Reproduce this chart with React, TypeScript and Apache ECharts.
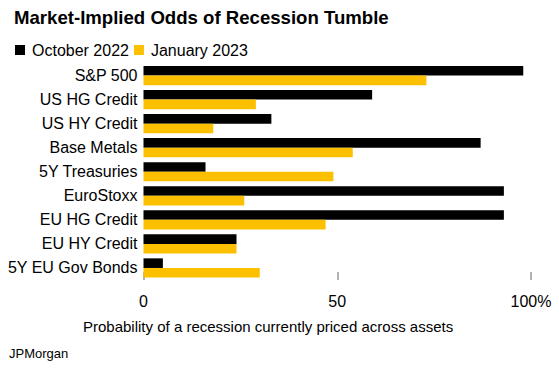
import React, { useEffect, useRef } from "react";
import * as echarts from "echarts";

const categories = [
  "S&P 500",
  "US HG Credit",
  "US HY Credit",
  "Base Metals",
  "5Y Treasuries",
  "EuroStoxx",
  "EU HG Credit",
  "EU HY Credit",
  "5Y EU Gov Bonds",
];
const october2022 = [98, 59, 33, 87, 16, 93, 93, 24, 5];
const january2023 = [73, 29, 18, 54, 49, 26, 47, 24, 30];
const xTicks = [0, 50, 100];

const FONT = "'Liberation Sans', Arial, Helvetica, sans-serif";

export default function App() {
  const ref = useRef<HTMLDivElement>(null);
  useEffect(() => {
    if (!ref.current) return;
    const chart = echarts.init(ref.current, undefined, { renderer: "svg" });
    chart.setOption({
      animation: false,
      backgroundColor: "#ffffff",
      textStyle: { fontFamily: FONT },
      title: {
        text: "Market-Implied Odds of Recession Tumble",
        left: 9,
        top: 3,
        textStyle: { fontFamily: FONT, fontSize: 18.6, fontWeight: "bold", color: "#000" },
      },
      legend: {
        left: 10,
        top: 37,
        itemWidth: 10,
        itemHeight: 10,
        itemGap: 5,
        icon: "rect",
        textStyle: { fontFamily: FONT, fontSize: 16, color: "#000", padding: [0, 0, 0, 2] },
        data: ["October 2022", "January 2023"],
      },
      grid: { left: 143.5, right: 28, top: 63.5, height: 216.5, containLabel: false },
      xAxis: {
        type: "value",
        min: 0,
        max: 100,
        interval: 50,
        axisLine: { show: false },
        splitLine: { show: false },
        axisTick: { show: true, inside: true, length: 8, lineStyle: { color: "#999", width: 1.5 } },
        axisLabel: {
          margin: 13,
          fontSize: 16,
          color: "#000",
          fontFamily: FONT,
          formatter: (v: number) => (v === xTicks[xTicks.length - 1] ? v + "%" : String(v)),
        },
      },
      yAxis: {
        type: "category",
        inverse: true,
        data: categories,
        axisLine: { show: false },
        axisTick: { show: false },
        axisLabel: { margin: 6, fontSize: 16, color: "#000", fontFamily: FONT },
      },
      series: [
        {
          name: "October 2022",
          type: "bar",
          data: october2022,
          itemStyle: { color: "#000000" },
          barGap: "0%",
          barCategoryGap: "20%",
          z: 3,
        },
        {
          name: "January 2023",
          type: "bar",
          data: january2023,
          itemStyle: { color: "#fcc000" },
          barGap: "0%",
          barCategoryGap: "20%",
          z: 3,
        },
      ],
      graphic: [
        {
          type: "text",
          left: 83,
          top: 319,
          style: {
            text: "Probability of a recession currently priced across assets",
            font: `15px ${FONT}`,
            fill: "#000",
          },
        },
        {
          type: "text",
          left: 9,
          top: 347,
          style: { text: "JPMorgan", font: `13px ${FONT}`, fill: "#000" },
        },
      ],
    });
    return () => chart.dispose();
  }, []);
  return <div ref={ref} style={{ width: 559, height: 369, position: "absolute", left: 0, top: 0 }} />;
}
